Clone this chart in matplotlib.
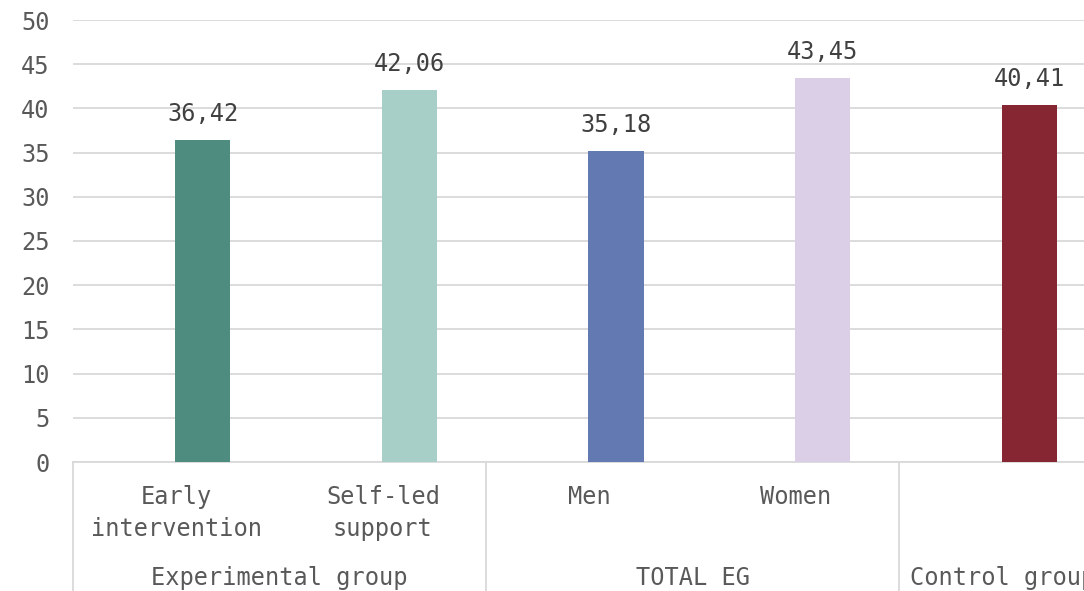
import matplotlib as mpl
mpl.use('Agg')
import matplotlib.pyplot as plt
import matplotlib.transforms as mtransforms

# category data
CATEGORIES = ['Early\nintervention', 'Self-led\nsupport', 'Men', 'Women', '']
VALUES = [36.42, 42.06, 35.18, 43.45, 40.41]
COLOURS = ['#4e8c7f', '#a7cec7', '#6379b1', '#dacfe6', '#862633']
GROUPS = ['Experimental group', 'TOTAL EG', 'Control group']
GROUP_SPANS = [(0, 1), (2, 3), (4, 4)]   # first/last category index per group
YTICKS = list(range(0, 51, 5))

FONT = 'DejaVu Sans Mono'
GREY = '#595959'
LINE = '#d9d9d9'
BAR_SHIFT = 0.128   # bars sit right of the category centre, as in the original

plt.rcParams['font.family'] = [FONT]
fig = plt.figure(figsize=(10.84, 5.91), dpi=100)
ax = fig.add_axes([73 / 1084, 129 / 591, 1033 / 1084, 442 / 591])

x = list(range(len(VALUES)))
xb = [xi + BAR_SHIFT for xi in x]
ax.bar(xb, VALUES, width=0.267, color=COLOURS, zorder=3)
for xi, v in zip(xb, VALUES):
    ax.annotate(('%.2f' % v).replace('.', ','), (xi, v), xytext=(0, 10),
                textcoords='offset points', ha='center', va='bottom',
                fontsize=17, color='#404040')

ax.set_xlim(-0.5, len(VALUES) - 0.5)
ax.set_ylim(0, 50)
ax.set_yticks(YTICKS)
ax.yaxis.grid(True, color=LINE, lw=1.3, zorder=0)
ax.tick_params(axis='y', length=0, pad=17, labelsize=17, labelcolor=GREY)
ax.set_xticks([])
for s in ['left', 'right', 'top']:
    ax.spines[s].set_visible(False)
ax.spines['bottom'].set_color(LINE)
ax.spines['bottom'].set_linewidth(1.3)

trans = mtransforms.blended_transform_factory(ax.transData, ax.transAxes)
for xi, lab in zip(x, CATEGORIES):
    ax.text(xi, -0.053, lab, transform=trans, ha='center', va='top',
            fontsize=17, color=GREY, linespacing=1.4, clip_on=False)

bottom = -0.3
for name, (a, b) in zip(GROUPS, GROUP_SPANS):
    ax.text((a + b) / 2, -0.262, name, transform=trans, ha='center',
            va='center', fontsize=17, color=GREY, clip_on=False)
    ax.plot([a - 0.5, a - 0.5], [0, bottom], transform=trans, color=LINE,
            lw=1.3, clip_on=False)

fig.savefig('out.png', dpi=100)
